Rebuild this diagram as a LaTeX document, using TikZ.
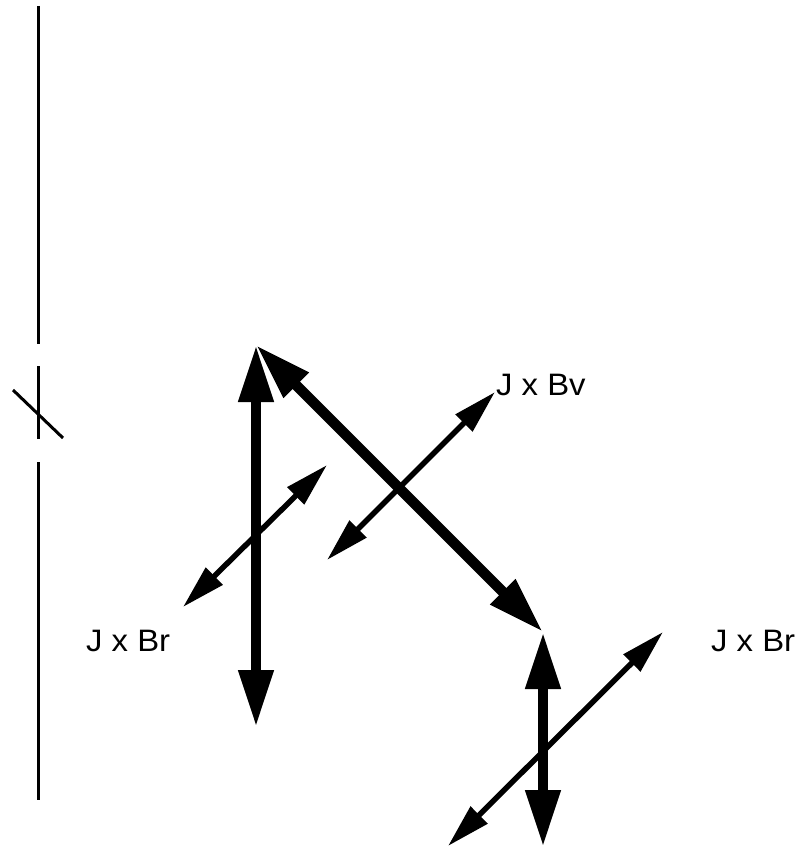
\documentclass[tikz,border=0pt]{standalone}
\usepackage{fontspec}
\setmainfont[FakeStretch=1.06]{Liberation Sans}
\usetikzlibrary{arrows.meta}
\begin{document}
\begin{tikzpicture}[x=1pt,y=-1pt,
  thickarrow/.style={line width=10.5pt, {Triangle[length=57pt,width=33pt]}-{Triangle[length=57pt,width=33pt]}},
  thinarrow/.style={line width=5.5pt, {Triangle[length=44pt,width=23pt]}-{Triangle[length=44pt,width=23pt]}},
  axisline/.style={line width=3pt},
  lbl/.style={anchor=base west, inner sep=0pt, font=\fontsize{31}{35}\selectfont}]
\useasboundingbox (0,0) rectangle (797,850);
% axis with break
\coordinate (a1) at (38,6);
\coordinate (a2) at (38,344);
\coordinate (a3) at (38,366);
\coordinate (a4) at (38,439);
\coordinate (a5) at (38,462);
\coordinate (a6) at (38,800);
\coordinate (s1) at (13,390);
\coordinate (s2) at (63,438);
\draw[axisline] (a1) -- (a2);
\draw[axisline] (a3) -- (a4);
\draw[axisline] (a5) -- (a6);
\draw[axisline] (s1) -- (s2);
% thick arrows
\coordinate (p1) at (256,345);
\coordinate (p1b) at (256,727);
\coordinate (p2) at (543,632);
\coordinate (p2b) at (543,847);
\draw[thickarrow] (p1) -- (p1b);
\draw[thickarrow] (p1) -- (p2);
\draw[thickarrow] (p2) -- (p2b);
% thin arrows
\coordinate (ta1) at (183,607);
\coordinate (ta2) at (327,465);
\coordinate (tb1) at (327,560);
\coordinate (tb2) at (495,392);
\coordinate (tc1) at (448,846);
\coordinate (tc2) at (663,632);
\draw[thinarrow] (ta1) -- (ta2);
\draw[thinarrow] (tb1) -- (tb2);
\draw[thinarrow] (tc1) -- (tc2);
% labels
\node[lbl] (lbv) at (496,395) {J x Bv};
\node[lbl] (lbr1) at (86,651) {J x Br};
\node[lbl] (lbr2) at (711,651) {J x Br};
\end{tikzpicture}
\end{document}
